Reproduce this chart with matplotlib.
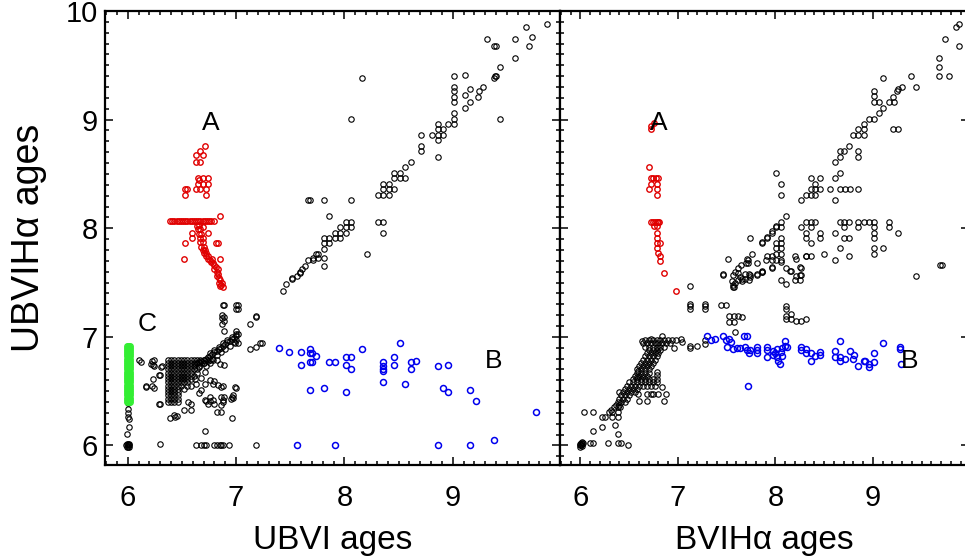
import numpy as np
import matplotlib
matplotlib.use("Agg")
import matplotlib.pyplot as plt
from matplotlib.ticker import MultipleLocator

plt.rcParams['font.family'] = ['Liberation Sans', 'DejaVu Sans']

# ---------------- left panel: UBVI ages vs UBVIHa ages ----------------
left_black = [
    (9.87, 9.88), (9.68, 9.85), (9.73, 9.76), (9.70, 9.68), (9.57, 9.74), (9.57, 9.57),
    (9.32, 9.74), (9.38, 9.68), (9.40, 9.68), (9.44, 9.48), (9.39, 9.40), (9.40, 9.40),
    (9.38, 9.38), (9.44, 9.01), (9.28, 9.30), (9.24, 9.26), (9.23, 9.21), (9.16, 9.16),
    (9.11, 9.11), (9.11, 9.23), (9.16, 9.28), (9.11, 9.41),
    (9.01, 9.40), (9.01, 9.30), (9.01, 9.26), (9.01, 9.21), (9.01, 9.16), (9.01, 9.06),
    (9.01, 9.01), (9.01, 8.96), (8.96, 8.96), (8.91, 8.91), (8.86, 8.91), (8.91, 8.86),
    (8.86, 8.86), (8.81, 8.86), (8.86, 8.96), (8.86, 8.81), (8.71, 8.86), (8.71, 8.76),
    (8.71, 8.71), (8.86, 8.66), (8.61, 8.61), (8.56, 8.56), (8.51, 8.51), (8.46, 8.51),
    (8.46, 8.46), (8.51, 8.46), (8.56, 8.46), (8.36, 8.41), (8.41, 8.41), (8.36, 8.36),
    (8.41, 8.36), (8.46, 8.36), (8.36, 8.31), (8.31, 8.31), (8.41, 8.31),
    (7.81, 8.26), (7.66, 8.26), (7.68, 8.26), (8.06, 8.26), (7.86, 8.11), (8.31, 8.06),
    (8.36, 8.06), (8.36, 7.96), (8.06, 8.06), (8.01, 8.06), (8.06, 8.01), (8.01, 8.01),
    (7.96, 8.01), (7.96, 7.96), (8.01, 7.96), (7.91, 7.96), (7.91, 7.91), (7.96, 7.91),
    (7.86, 7.91), (7.81, 7.91), (7.81, 7.86), (7.86, 7.86), (7.81, 7.81), (8.21, 7.76),
    (7.74, 7.76), (7.71, 7.73), (7.66, 7.71), (7.71, 7.71), (7.76, 7.76), (7.81, 7.73),
    (7.81, 7.65), (7.76, 7.73), (7.64, 7.65), (7.61, 7.62), (7.59, 7.59), (7.56, 7.56),
    (7.52, 7.54), (8.06, 9.01), (8.16, 9.38), (7.59, 7.60), (7.52, 7.53), (7.46, 7.49),
    (7.43, 7.42),
    # x = 6 column and filled dot
    (6.00, 6.39), (6.00, 6.34), (6.00, 6.30), (6.00, 6.26), (6.01, 6.24), (6.01, 6.17),
    (5.99, 6.11), (6.00, 6.00), (5.985, 6.00), (6.015, 6.00), (6.00, 5.985), (6.00, 6.015),
    (5.99, 5.99), (6.01, 6.01), (5.99, 6.01), (6.01, 5.99),
    # scatter around the blob
    (6.10, 6.79), (6.12, 6.77), (6.22, 6.78), (6.24, 6.79), (6.21, 6.75), (6.24, 6.73),
    (6.30, 6.65), (6.32, 6.73), (6.23, 6.61), (6.17, 6.55), (6.22, 6.55), (6.24, 6.53),
    (6.30, 6.38), (6.39, 6.25), (6.43, 6.28), (6.44, 6.26), (6.52, 6.33), (6.58, 6.38),
    (6.58, 6.33), (6.30, 6.01), (6.63, 6.00), (6.68, 6.00), (6.70, 6.00), (6.72, 6.00),
    (6.80, 6.00), (6.82, 6.00), (6.85, 6.00), (6.86, 6.00), (6.88, 6.00), (6.93, 6.00),
    (7.18, 6.00), (6.71, 6.13), (6.82, 6.31), (6.86, 6.31), (6.96, 6.25),
    (6.71, 6.42), (6.76, 6.45), (6.74, 6.38), (6.79, 6.42), (6.80, 6.38), (6.86, 6.45),
    (6.88, 6.42), (6.86, 6.54), (6.88, 6.55), (6.96, 6.45), (6.97, 6.44), (7.00, 6.53),
    (6.99, 6.54), (6.76, 6.60), (6.80, 6.59), (6.83, 6.56), (6.66, 6.48), (6.68, 6.51),
    (6.79, 6.57), (6.89, 6.45), (6.88, 6.40), (6.86, 6.37), (6.72, 6.41), (6.76, 6.41),
    (6.97, 6.46), (6.95, 6.43), (6.89, 6.74), (6.85, 6.75), (6.29, 6.38), (6.45, 6.27),
    (6.56, 6.40), (6.31, 6.72), (6.29, 6.65), (6.23, 6.74), (6.17, 6.54),
    (6.66, 6.72), (6.71, 6.68), (6.68, 6.62), (6.63, 6.57), (6.71, 6.57),
    # diagonal towards 7
    (6.64, 6.76), (6.66, 6.77), (6.68, 6.78), (6.70, 6.79), (6.72, 6.80), (6.74, 6.81),
    (6.76, 6.82), (6.78, 6.84), (6.80, 6.86), (6.82, 6.87), (6.84, 6.89), (6.86, 6.90),
    (6.88, 6.92), (6.90, 6.93), (6.92, 6.95), (6.94, 6.96), (6.96, 6.98), (6.98, 6.99),
    (7.00, 7.01), (7.02, 7.03), (6.70, 6.76), (6.74, 6.78), (6.78, 6.80), (6.82, 6.83),
    (6.86, 6.86), (6.90, 6.89), (6.94, 6.92), (6.98, 6.95), (7.00, 6.97), (6.76, 6.85),
    (6.80, 6.88), (6.84, 6.91), (6.88, 6.94), (6.92, 6.97), (6.96, 7.00), (7.00, 7.03),
    (6.99, 6.94), (7.02, 6.94), (7.00, 7.05),
    (6.87, 7.20), (6.87, 7.17), (6.87, 7.12), (6.89, 7.18), (6.89, 7.15), (6.89, 7.05),
    (6.88, 7.29), (6.89, 7.29), (7.00, 7.29), (7.02, 7.29), (7.00, 7.26), (7.02, 7.26),
    (7.13, 7.12), (7.18, 7.18), (7.18, 7.19), (7.13, 6.89), (7.18, 6.91), (7.22, 6.94),
    (7.24, 6.94),
]

# dense block of young clusters: (y, list of x)
left_blob_rows = [
    (6.79, [6.37, 6.40, 6.43, 6.46, 6.49, 6.52, 6.55, 6.58, 6.61, 6.64, 6.67, 6.70, 6.73, 6.76, 6.79, 6.82]),
    (6.76, [6.37, 6.40, 6.43, 6.46, 6.49, 6.52, 6.55, 6.58, 6.61, 6.64, 6.67, 6.70, 6.76]),
    (6.73, [6.37, 6.40, 6.43, 6.46, 6.49, 6.52, 6.55, 6.58, 6.61, 6.66, 6.72]),
    (6.70, [6.37, 6.40, 6.43, 6.46, 6.49, 6.52, 6.55, 6.58, 6.61, 6.64]),
    (6.67, [6.37, 6.40, 6.43, 6.46, 6.49, 6.52, 6.55, 6.58, 6.64]),
    (6.64, [6.37, 6.40, 6.43, 6.46, 6.49, 6.52, 6.55, 6.58, 6.61]),
    (6.61, [6.37, 6.40, 6.43, 6.46, 6.49, 6.52, 6.55, 6.58, 6.62]),
    (6.58, [6.37, 6.40, 6.43, 6.46, 6.49, 6.52, 6.55]),
    (6.55, [6.37, 6.40, 6.43, 6.46, 6.49, 6.55, 6.58]),
    (6.52, [6.37, 6.40, 6.43, 6.46, 6.52]),
    (6.49, [6.37, 6.40, 6.43, 6.46]),
    (6.46, [6.37, 6.40, 6.43, 6.46]),
    (6.43, [6.37, 6.40, 6.43, 6.46]),
    (6.40, [6.37, 6.40, 6.43, 6.46]),
]

left_red = [
    (6.71, 8.76), (6.67, 8.71), (6.63, 8.67), (6.69, 8.67), (6.63, 8.61), (6.67, 8.61),
    (6.65, 8.46), (6.69, 8.46), (6.74, 8.46), (6.65, 8.41), (6.69, 8.41), (6.74, 8.41),
    (6.55, 8.36), (6.53, 8.36), (6.63, 8.36), (6.67, 8.36), (6.72, 8.36), (6.53, 8.31),
    (6.72, 8.31), (6.66, 8.44),
    (6.39, 8.07), (6.41, 8.07), (6.43, 8.07), (6.45, 8.07), (6.47, 8.07), (6.49, 8.07),
    (6.51, 8.07), (6.53, 8.07), (6.55, 8.07), (6.57, 8.07), (6.59, 8.07), (6.61, 8.07),
    (6.63, 8.07), (6.65, 8.07), (6.67, 8.07), (6.69, 8.07), (6.71, 8.07), (6.73, 8.07),
    (6.75, 8.07), (6.77, 8.07), (6.80, 8.07), (6.85, 8.11),
    (6.64, 8.02), (6.66, 8.03), (6.65, 7.99), (6.67, 7.99), (6.66, 7.95), (6.68, 7.95),
    (6.67, 7.91), (6.69, 7.91), (6.67, 7.87), (6.69, 7.87), (6.68, 7.83), (6.70, 7.83),
    (6.69, 7.80), (6.71, 7.80), (6.70, 7.77), (6.72, 7.77), (6.72, 7.74), (6.74, 7.74),
    (6.74, 7.72), (6.76, 7.71), (6.77, 7.69), (6.79, 7.68), (6.80, 7.66), (6.81, 7.64),
    (6.80, 7.62), (6.82, 7.60), (6.83, 7.58), (6.82, 7.56), (6.84, 7.54), (6.85, 7.52),
    (6.84, 7.50), (6.86, 7.48), (6.88, 7.46), (6.85, 7.47), (6.87, 7.50), (6.83, 7.62),
    (6.78, 7.72),
    (6.59, 7.96), (6.59, 7.91), (6.53, 7.86), (6.52, 7.72), (6.81, 7.86), (6.83, 7.86),
    (6.85, 7.72), (6.69, 8.01), (6.74, 7.96),
]

left_blue = [
    (7.40, 6.90), (7.49, 6.86), (7.60, 6.86), (7.68, 6.89), (7.68, 6.85), (7.70, 6.85),
    (7.74, 6.82), (7.68, 6.77), (7.70, 6.77), (7.60, 6.74), (7.86, 6.77), (7.91, 6.77),
    (8.01, 6.81), (8.06, 6.81), (8.01, 6.74), (8.06, 6.70), (8.16, 6.89), (8.36, 6.77),
    (8.36, 6.73), (8.36, 6.70), (8.36, 6.69), (8.36, 6.58), (8.46, 6.81), (8.46, 6.74),
    (8.51, 6.94), (8.61, 6.77), (8.61, 6.70), (8.66, 6.78), (8.56, 6.57), (8.86, 6.73),
    (8.96, 6.74), (8.91, 6.53), (8.96, 6.49), (9.16, 6.51), (9.21, 6.41), (9.77, 6.31),
    (7.68, 6.51), (7.81, 6.53), (8.01, 6.49),
    (7.56, 6.00), (7.91, 6.00), (8.86, 6.00), (9.16, 6.00), (9.38, 6.05),
]

left_green_y = [6.40, 6.42, 6.44, 6.46, 6.48, 6.50, 6.52, 6.54, 6.56, 6.58, 6.60, 6.62, 6.64,
                6.66, 6.68, 6.70, 6.72, 6.74, 6.76, 6.78, 6.80, 6.82, 6.84, 6.86, 6.88, 6.90, 6.92]
left_green_x = [6.0, 5.99, 6.01, 6.02]

# ---------------- right panel: BVIHa ages vs UBVIHa ages ----------------
right_black = [
    (6.00, 6.00), (6.01, 6.00), (6.02, 6.01), (6.01, 6.02), (6.03, 6.02), (6.00, 6.01),
    (6.02, 6.03), (5.995, 5.99), (6.015, 5.995),
    (6.10, 6.02), (6.13, 6.02), (6.28, 6.02), (6.39, 6.02), (6.42, 6.02), (6.49, 6.00),
    (6.04, 6.31), (6.13, 6.31), (6.13, 6.13), (6.22, 6.17), (6.22, 6.26), (6.25, 6.26),
    (6.32, 6.26), (6.35, 6.19), (6.38, 6.11), (6.32, 6.31), (6.39, 6.31), (6.39, 6.26),
    (6.34, 6.35), (6.31, 6.33), (6.29, 6.31),
    (6.63, 6.96), (6.72, 6.98), (6.84, 7.01), (7.03, 6.98), (7.04, 6.95), (6.96, 6.90),
    (6.59, 6.69), (6.58, 6.63), (6.78, 6.68), (6.78, 6.65), (6.84, 6.54), (6.59, 6.47),
    (6.68, 6.47), (6.72, 6.47), (6.74, 6.47), (6.79, 6.47), (6.60, 6.41), (6.68, 6.41),
    (6.86, 6.41), (6.88, 6.47), (6.40, 6.49), (6.39, 6.35), (6.41, 6.35),
    (7.12, 7.28), (7.28, 7.28), (7.12, 7.26), (7.28, 7.26), (7.12, 7.30), (7.28, 7.30),
    (7.12, 6.92), (7.12, 6.90), (7.20, 6.92), (7.28, 6.93), (7.28, 6.97), (7.12, 7.47),
    (7.44, 7.29), (7.49, 7.29), (7.52, 7.19), (7.57, 7.19), (7.62, 7.19), (7.66, 7.18),
    (7.52, 7.14), (7.57, 7.14), (7.59, 7.04), (8.11, 7.28), (8.11, 7.26), (8.11, 7.19),
    (8.11, 7.16), (8.16, 7.21), (8.16, 7.16), (8.21, 7.15), (8.26, 7.15), (8.31, 7.16),
    (9.88, 9.88), (9.85, 9.85), (9.74, 9.74), (9.88, 9.68), (9.68, 9.57), (9.68, 9.48),
    (9.68, 9.40), (9.78, 9.40), (9.39, 9.40), (9.44, 9.30), (9.30, 9.30), (9.26, 9.28),
    (9.25, 9.26), (9.21, 9.21), (9.16, 9.16), (9.22, 9.16), (9.10, 9.11), (9.06, 9.06),
    (9.01, 9.01), (8.96, 9.01), (8.91, 8.96), (8.85, 8.91), (8.91, 8.91), (8.85, 8.86),
    (8.91, 8.86), (8.80, 8.86), (8.75, 8.76), (8.70, 8.71), (8.66, 8.66), (8.61, 8.61),
    (8.61, 8.46), (8.66, 8.51), (8.61, 8.26), (9.01, 9.26), (9.01, 9.22), (9.01, 9.16),
    (9.06, 9.16), (9.21, 8.91), (9.26, 8.91), (8.85, 8.71), (8.85, 8.66), (9.10, 9.38),
    (8.66, 8.71),
    (8.36, 8.36), (8.41, 8.36), (8.46, 8.36), (8.56, 8.36), (8.66, 8.36), (8.71, 8.36),
    (8.76, 8.36), (8.85, 8.36), (8.36, 8.46), (8.46, 8.46), (8.41, 8.41), (8.31, 8.31),
    (8.36, 8.31), (8.41, 8.31), (8.26, 8.26), (8.01, 8.51), (8.06, 8.41), (8.06, 8.31),
    (8.31, 8.06), (8.36, 8.06), (8.41, 8.06), (8.66, 8.06), (8.70, 8.06), (8.75, 8.06),
    (8.85, 8.06), (8.91, 8.06), (8.96, 8.06), (9.01, 8.06), (9.16, 8.06),
    (8.26, 8.01), (8.36, 8.01), (8.70, 8.01), (8.85, 8.01), (9.01, 8.01), (9.16, 8.01),
    (8.11, 8.11), (8.06, 8.06), (8.06, 8.01),
    (8.31, 7.96), (8.46, 7.96), (8.61, 7.96), (9.01, 7.96), (9.26, 7.96),
    (8.31, 7.91), (8.46, 7.91), (8.70, 7.91), (8.75, 7.91), (9.01, 7.91),
    (8.36, 7.86), (8.06, 7.86), (8.66, 7.82), (9.01, 7.82), (9.10, 7.82), (9.01, 7.76),
    (8.50, 7.76), (8.31, 7.74), (8.36, 7.74), (8.75, 7.74), (8.61, 7.71),
    (7.96, 7.96), (7.91, 7.91), (7.86, 7.86), (8.01, 8.01), (7.74, 7.91),
    (8.06, 7.91), (8.06, 7.82), (8.06, 7.76), (8.06, 7.71), (8.06, 7.69),
    (8.01, 7.86), (8.01, 7.82), (8.01, 7.76), (8.01, 7.71),
    (7.90, 7.71), (7.96, 7.71), (7.96, 7.63), (7.86, 7.61), (7.81, 7.68), (7.81, 7.58),
    (7.72, 7.71), (7.70, 7.68), (7.65, 7.66), (7.62, 7.63), (7.59, 7.60), (7.56, 7.57),
    (7.51, 7.72), (7.46, 7.58), (8.21, 7.72), (8.26, 7.63), (8.11, 7.63), (8.16, 7.61),
    (8.21, 7.56), (9.69, 7.66), (9.71, 7.66), (9.44, 7.56),
    (7.56, 7.48), (7.57, 7.46), (7.59, 7.50), (7.62, 7.52), (7.64, 7.55), (7.66, 7.51),
    (7.69, 7.58), (7.71, 7.72), (7.72, 7.68), (7.73, 7.52), (7.74, 7.57), (7.76, 7.76),
    (7.86, 7.60), (7.86, 7.87), (7.91, 7.92), (7.96, 7.97), (8.01, 8.02), (7.96, 7.74),
    (7.96, 7.64), (7.91, 7.74), (8.15, 7.61), (8.06, 7.52), (8.11, 7.49), (8.20, 7.74),
    (8.20, 7.52), (8.25, 7.52), (8.25, 7.57), (8.25, 7.64), (8.31, 7.74),
    (7.46, 7.57), (7.55, 7.51), (7.56, 7.46), (7.62, 7.59), (7.66, 7.53), (7.69, 7.53),
    (7.73, 7.58), (7.74, 7.55), (7.81, 7.57), (7.86, 7.60), (8.26, 7.57),
]

right_band_rows = [
    (6.97, [6.66, 6.70, 6.74, 6.78, 6.82, 6.86, 6.90, 6.94, 6.98]),
    (6.94, [6.64, 6.68, 6.72, 6.76, 6.80, 6.84, 6.88, 6.92]),
    (6.91, [6.66, 6.70, 6.74, 6.78, 6.82, 6.86]),
    (6.88, [6.70, 6.74, 6.78, 6.82]),
    (6.85, [6.68, 6.72, 6.76, 6.80]),
    (6.82, [6.66, 6.70, 6.74, 6.78]),
    (6.79, [6.64, 6.68, 6.72, 6.76]),
    (6.76, [6.62, 6.66, 6.70, 6.74]),
    (6.73, [6.60, 6.64, 6.68, 6.72]),
    (6.70, [6.58, 6.62, 6.66, 6.70]),
    (6.67, [6.58, 6.62, 6.66, 6.70]),
    (6.64, [6.56, 6.60, 6.64, 6.68]),
    (6.61, [6.54, 6.58, 6.62, 6.66, 6.70, 6.74, 6.78]),
    (6.58, [6.50, 6.54, 6.58, 6.62, 6.66, 6.70, 6.74, 6.78]),
    (6.55, [6.48, 6.52, 6.56, 6.60, 6.64, 6.68, 6.72, 6.76]),
    (6.52, [6.46, 6.50, 6.54, 6.58]),
    (6.49, [6.44, 6.48, 6.52, 6.56]),
    (6.46, [6.42, 6.46, 6.50]),
    (6.43, [6.40, 6.44, 6.48]),
    (6.40, [6.38, 6.42, 6.46]),
    (6.37, [6.36, 6.40]),
]

right_red = [
    (6.75, 8.97), (6.72, 8.94), (6.72, 8.91), (6.70, 8.56),
    (6.72, 8.46), (6.74, 8.46), (6.77, 8.46), (6.80, 8.46), (6.72, 8.41), (6.78, 8.41),
    (6.70, 8.36), (6.78, 8.36), (6.78, 8.31),
    (6.72, 8.06), (6.74, 8.06), (6.76, 8.06), (6.78, 8.06), (6.80, 8.06), (6.81, 8.06),
    (6.75, 8.02), (6.78, 8.02), (6.78, 7.96), (6.78, 7.91), (6.78, 7.86), (6.78, 7.82),
    (6.82, 7.86), (6.80, 7.77), (6.82, 7.74), (6.82, 7.70), (6.86, 7.59), (6.98, 7.42),
]

right_blue = [
    (7.30, 7.01), (7.34, 6.97), (7.38, 6.98), (7.46, 7.01), (7.49, 6.97), (7.52, 6.98),
    (7.54, 6.95), (7.50, 6.91), (7.56, 6.89), (7.61, 6.90), (7.64, 6.90), (7.68, 7.01),
    (7.71, 7.01), (7.69, 6.91), (7.71, 6.88), (7.74, 6.88), (7.73, 6.85), (7.81, 6.91),
    (7.81, 6.88), (7.81, 6.85), (7.91, 6.91), (7.91, 6.88), (7.91, 6.81), (7.97, 6.87),
    (7.97, 6.83), (8.00, 6.85), (8.02, 6.81), (8.03, 6.78), (8.05, 6.75), (8.02, 6.89),
    (8.07, 6.90), (8.10, 6.96), (8.10, 6.92), (8.12, 6.91), (8.06, 6.86), (8.07, 6.82),
    (8.26, 6.91), (8.26, 6.88), (8.31, 6.89), (8.31, 6.85), (8.36, 6.85), (8.36, 6.78),
    (8.41, 6.82), (8.46, 6.86), (8.46, 6.83), (8.61, 6.87), (8.61, 6.81), (8.66, 6.96),
    (8.66, 6.81), (8.66, 6.78), (8.71, 6.80), (8.76, 6.87), (8.81, 6.83), (8.80, 6.80),
    (8.85, 6.73), (8.91, 6.78), (8.92, 6.78), (8.96, 6.75), (8.96, 6.72), (9.01, 6.77),
    (9.01, 6.85), (9.10, 6.94), (9.28, 6.91), (9.28, 6.89), (9.29, 6.75), (7.72, 6.55),
]

# ---------------- drawing ----------------
xlim = (5.79, 9.99)
ylim = (5.82, 10.0)


def expand_rows(rows):
    pts = []
    for y, xs in rows:
        for x in xs:
            pts.append((x, y))
    return np.array(pts)


def circles(ax, pts, color, ms=3.9, mew=0.8):
    pts = np.asarray(pts)
    ax.plot(pts[:, 0], pts[:, 1], ls='none', marker='o', ms=ms, mfc='none',
            mec=color, mew=mew)


def style_axis(ax):
    ax.set_xlim(*xlim)
    ax.set_ylim(*ylim)
    ax.xaxis.set_major_locator(MultipleLocator(1))
    ax.xaxis.set_minor_locator(MultipleLocator(0.1))
    ax.yaxis.set_major_locator(MultipleLocator(1))
    ax.yaxis.set_minor_locator(MultipleLocator(0.1))
    ax.tick_params(which='both', direction='in', top=True, right=True, width=1.1,
                   labelsize=21)
    ax.tick_params(axis='x', pad=14)
    ax.tick_params(axis='y', pad=5)
    ax.tick_params(which='major', length=6)
    ax.tick_params(which='minor', length=3)
    for s in ax.spines.values():
        s.set_linewidth(1.6)


fig = plt.figure(figsize=(9.65, 5.58), dpi=100)
ax1 = fig.add_axes([105 / 965, 93 / 558, 455 / 965, 454 / 558])
ax2 = fig.add_axes([560 / 965, 93 / 558, 409.5 / 965, 454 / 558])

style_axis(ax1)
style_axis(ax2)
ax2.tick_params(labelleft=False)

circles(ax1, left_black, 'black')
circles(ax1, expand_rows(left_blob_rows), 'black')
circles(ax1, left_red, '#e00000', mew=1.0)
circles(ax1, left_blue, '#0000ee', ms=4.3, mew=1.1)
green = [(x, y) for y in left_green_y for x in left_green_x]
circles(ax1, green, '#33ee33', mew=1.0)

circles(ax2, right_black, 'black')
circles(ax2, expand_rows(right_band_rows), 'black')
circles(ax2, right_red, '#e00000', mew=1.0)
circles(ax2, right_blue, '#0000ee', ms=4.3, mew=1.1)

for ax, lbls in ((ax1, [(6.77, 8.97, 'A'), (6.18, 7.12, 'C'), (9.38, 6.78, 'B')]),
                 (ax2, [(6.80, 8.97, 'A'), (9.38, 6.78, 'B')])):
    for x, y, t in lbls:
        ax.text(x, y, t, fontsize=19, ha='center', va='center')

ax1.set_xlabel('UBVI ages', fontsize=24, labelpad=9)
ax2.set_xlabel('BVIHα ages', fontsize=24, labelpad=9)
ax1.set_ylabel('UBVIHα ages', fontsize=27)
ax1.yaxis.set_label_coords(-0.128, 0.5)

fig.savefig('out.png', dpi=100)
